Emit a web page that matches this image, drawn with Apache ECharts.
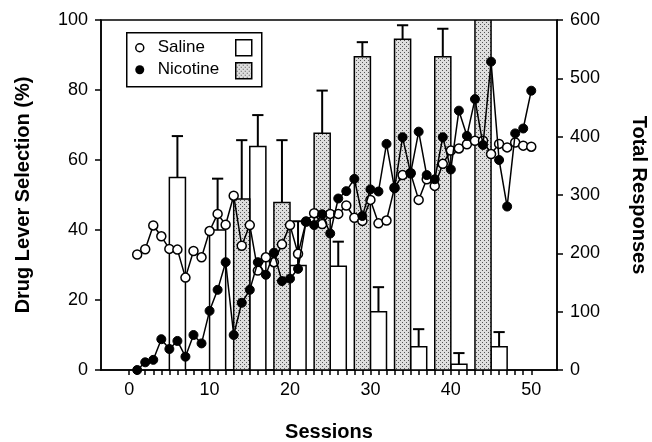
<!DOCTYPE html>
<html>
<head>
<meta charset="utf-8">
<script src="https://cdn.jsdelivr.net/npm/echarts@6/dist/echarts.min.js"></script>
<style>
  html, body { margin: 0; padding: 0; background: #fff; }
  #chart { width: 652px; height: 442px; }
</style>
</head>
<body>
<div id="chart"></div>
<script>
// Drug lever selection (%) per session, sessions 1..50
var salinePct = [33, 34.5, 41.3, 38.2, 34.6, 34.4, 26.4, 34, 32.2, 39.7,
                 44.6, 41.5, 49.8, 35.5, 41.4, 28.4, 32.2, 30.8, 35.9, 41.4,
                 33.2, 42.4, 44.8, 41.7, 44.6, 44.6, 47, 43.5, 42.6, 48.6,
                 41.9, 42.7, 52.1, 55.7, 56.2, 48.6, 54.5, 52.6, 58.9, 62.7,
                 63.3, 64.5, 65.5, 65.5, 61.7, 64.6, 63.6, 65, 64.1, 63.8];
var nicotinePct = [0, 2.2, 2.9, 8.8, 6, 8.3, 3.8, 10, 7.6, 16.9,
                   22.9, 30.8, 10, 19.2, 22.9, 30.8, 27.2, 33.5, 25.4, 26.1,
                   28.9, 42.4, 41.4, 44.5, 39, 49, 51.1, 54.6, 44, 51.6,
                   51, 64.6, 51.9, 66.5, 56.2, 68.1, 55.7, 54.5, 66.5, 57.3,
                   74.1, 66.9, 77.4, 64.3, 88.1, 60, 46.7, 67.6, 69, 79.8];

// Total responses: [session centre, mean, mean + error]
var salineBars = [[6, 330, 401], [11, 240, 328], [16, 383, 437], [21, 179, 255],
                  [26, 178, 220], [31, 100, 142], [36, 40, 70], [41, 10, 29], [46, 40, 65]];
var nicotineBars = [[14, 293, 394], [19, 287, 394], [24, 406, 479], [29, 537, 562],
                    [34, 567, 591], [39, 537, 585], [44, 600, null]];

var xLabelValues = [0, 10, 20, 30, 40, 50];
var xTickValues = [];
for (var t = 0; t <= 50; t++) xTickValues.push(t);

var FONT = '"Liberation Sans", Arial, sans-serif';

function sessionPairs(values) {
    return values.map(function (v, i) { return [i + 1, v]; });
}

// stippled fill for the nicotine bars
function makeStipple() {
    var c = document.createElement('canvas');
    c.width = 4; c.height = 4;
    var g = c.getContext('2d');
    g.fillStyle = '#dedede';
    g.fillRect(0, 0, 4, 4);
    g.fillStyle = '#555';
    g.fillRect(0, 0, 1, 1);
    g.fillRect(2, 2, 1, 1);
    return c;
}
var stipple = { image: makeStipple(), repeat: 'repeat' };

function barRenderer(fill) {
    return function (params, api) {
        var s = api.value(0), v = api.value(1);
        var p0 = api.coord([s - 1, v]);
        var p1 = api.coord([s + 1, 0]);
        return {
            type: 'rect',
            shape: { x: p0[0], y: p0[1], width: p1[0] - p0[0], height: p1[1] - p0[1] },
            style: { fill: fill, stroke: '#000', lineWidth: 1.5 }
        };
    };
}

function errRenderer(params, api) {
    var s = api.value(0), v = api.value(1), e = api.value(2);
    if (e == null || isNaN(e)) return null;
    var base = api.coord([s, v]);
    var top = api.coord([s, e]);
    var cl = api.coord([s - 0.7, e]);
    var cr = api.coord([s + 0.7, e]);
    return {
        type: 'group',
        children: [
            { type: 'line', shape: { x1: base[0], y1: base[1], x2: top[0], y2: top[1] },
              style: { stroke: '#000', lineWidth: 2 } },
            { type: 'line', shape: { x1: cl[0], y1: cl[1], x2: cr[0], y2: cr[1] },
              style: { stroke: '#000', lineWidth: 2 } }
        ]
    };
}

var chart = echarts.init(document.getElementById('chart'));

var axisLineStyle = { show: true, onZero: false, lineStyle: { color: '#000', width: 1.5 } };
var tickStyle = { show: true, inside: false, length: 6, lineStyle: { color: '#000', width: 1.5 } };
var nameStyle = { color: '#000', fontSize: 20, fontWeight: 'bold', fontFamily: FONT };

chart.setOption({
    animation: false,
    textStyle: { fontFamily: FONT },
    grid: { left: 101, right: 95, top: 20, bottom: 72, show: true,
            borderColor: '#000', borderWidth: 1.5, backgroundColor: 'transparent',
            outerBoundsMode: 'none' },
    xAxis: {
        type: 'value',
        min: -3.5,
        max: 53.2,
        name: 'Sessions',
        nameLocation: 'middle',
        nameGap: 52,
        nameMoveOverlap: false,
        nameTextStyle: nameStyle,
        axisLine: axisLineStyle,
        axisTick: { show: true, inside: false, length: 5, customValues: xTickValues,
                    lineStyle: { color: '#000', width: 1.5 } },
        axisLabel: { customValues: xLabelValues, color: '#000', fontSize: 18, margin: 11 },
        splitLine: { show: false }
    },
    yAxis: [{
        type: 'value',
        min: 0, max: 100, interval: 20,
        position: 'left',
        name: 'Drug Lever Selection (%)',
        nameLocation: 'middle',
        nameGap: 68,
        nameRotate: 90,
        nameMoveOverlap: false,
        nameTextStyle: nameStyle,
        axisLine: axisLineStyle,
        axisTick: tickStyle,
        axisLabel: { color: '#000', fontSize: 18, margin: 13 },
        splitLine: { show: false }
    }, {
        type: 'value',
        min: 0, max: 600, interval: 100,
        position: 'right',
        name: 'Total Responses',
        nameLocation: 'middle',
        nameGap: 72,
        nameRotate: -90,
        nameMoveOverlap: false,
        nameTextStyle: nameStyle,
        axisLine: axisLineStyle,
        axisTick: tickStyle,
        axisLabel: { color: '#000', fontSize: 18, margin: 13 },
        splitLine: { show: false }
    }],
    graphic: [{
        type: 'group',
        left: 126, top: 32,
        children: [
            { type: 'rect', shape: { x: 0, y: 0, width: 135, height: 54 },
              style: { fill: '#fff', stroke: '#000', lineWidth: 1.5 } },
            { type: 'circle', shape: { cx: 13, cy: 15, r: 4 },
              style: { fill: '#fff', stroke: '#000', lineWidth: 1.5 } },
            { type: 'circle', shape: { cx: 13, cy: 37, r: 4.5 },
              style: { fill: '#000' } },
            { type: 'text', x: 31, y: 15,
              style: { text: 'Saline', fill: '#000', font: '17px ' + FONT, verticalAlign: 'middle' } },
            { type: 'text', x: 31, y: 37,
              style: { text: 'Nicotine', fill: '#000', font: '17px ' + FONT, verticalAlign: 'middle' } },
            { type: 'rect', shape: { x: 109, y: 7, width: 16, height: 16 },
              style: { fill: '#fff', stroke: '#000', lineWidth: 1.5 } },
            { type: 'rect', shape: { x: 109, y: 30, width: 16, height: 16 },
              style: { fill: stipple, stroke: '#000', lineWidth: 1.5 } }
        ]
    }],
    series: [
        { name: 'Saline responses', type: 'custom', yAxisIndex: 1, z: 1, clip: true,
          renderItem: barRenderer('#fff'), data: salineBars },
        { name: 'Nicotine responses', type: 'custom', yAxisIndex: 1, z: 1, clip: true,
          renderItem: barRenderer(stipple), data: nicotineBars },
        { name: 'Saline error', type: 'custom', yAxisIndex: 1, z: 1, clip: true,
          renderItem: errRenderer, data: salineBars },
        { name: 'Nicotine error', type: 'custom', yAxisIndex: 1, z: 1, clip: true,
          renderItem: errRenderer, data: nicotineBars },
        { name: 'Saline', type: 'line', yAxisIndex: 0, z: 3,
          data: sessionPairs(salinePct),
          symbol: 'circle', symbolSize: 9,
          lineStyle: { color: '#000', width: 1.5 },
          itemStyle: { color: '#fff', borderColor: '#000', borderWidth: 1.5 } },
        { name: 'Nicotine', type: 'line', yAxisIndex: 0, z: 4,
          data: sessionPairs(nicotinePct),
          symbol: 'circle', symbolSize: 9,
          lineStyle: { color: '#000', width: 1.5 },
          itemStyle: { color: '#000', borderColor: '#000', borderWidth: 1 } }
    ]
});
</script>
</body>
</html>
